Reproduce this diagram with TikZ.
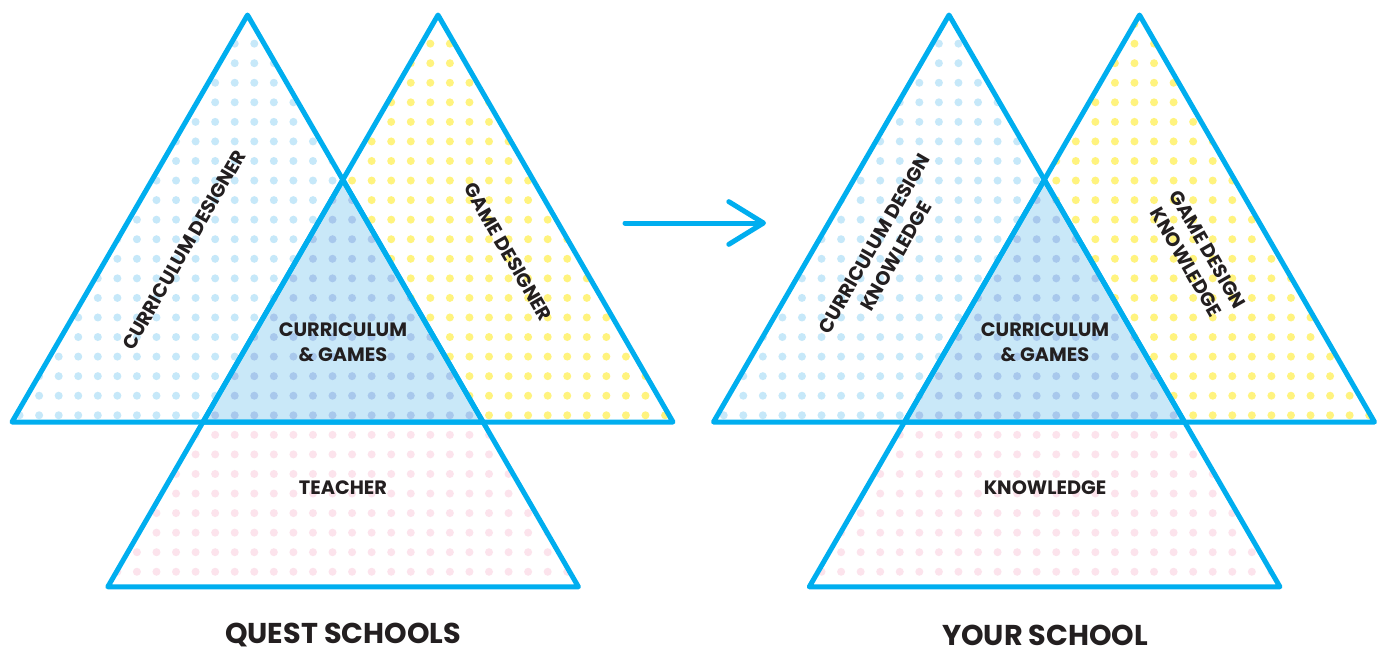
\documentclass[tikz,border=0pt]{standalone}
\usepackage{fontspec}
\setmainfont{Poppins}
\usetikzlibrary{patterns.meta,arrows.meta}

\definecolor{rimblue}{HTML}{00AEEF}
\definecolor{bluedot}{HTML}{C6E8F9}
\definecolor{yellowdot}{HTML}{FFF37E}
\definecolor{pinkdot}{HTML}{FCE3EC}
\definecolor{midfill}{HTML}{C9E8F8}
\definecolor{middot}{HTML}{A8C8EC}
\definecolor{ink}{HTML}{231F20}

\tikzdeclarepattern{
  name=dotgrid,
  type=uncolored,
  bounding box={(-7.33pt,-7.33pt) and (7.33pt,7.33pt)},
  tile size={(14.67pt,14.67pt)},
  code={\pgfpathcircle{\pgfpointorigin}{3pt}\pgfusepath{fill}}
}

\tikzset{every picture/.style={line width=0.75pt}}
\tikzset{
  rim/.style={draw=rimblue, line width=3.75pt, line join=round},
  bluearea/.style={pattern={dotgrid}, pattern color=bluedot},
  yellowarea/.style={pattern={dotgrid}, pattern color=yellowdot},
  pinkarea/.style={pattern={dotgrid}, pattern color=pinkdot},
  midarea/.style={pattern={dotgrid}, pattern color=middot},
  lbl/.style={font=\bfseries\fontsize{14.5}{19}\selectfont, text=ink, align=center, inner sep=0.75pt},
  title/.style={font=\bfseries\fontsize{21.5}{26}\selectfont, text=ink, inner sep=0pt}
}

\begin{document}
\begin{tikzpicture}[x=0.75pt,y=0.75pt,yscale=-1,xscale=1]
%set diagram left start at 0, and has height of 650
\useasboundingbox[fill=white] (0,0) rectangle (1382,650);

%Shape: Triangle, quest curriculum [id:qc]
\path[bluearea] (247.5,15) -- (12,422) -- (483,422) -- cycle;
%Shape: Triangle, quest game [id:qg]
\path[yellowarea] (438,15) -- (203,422) -- (673,422) -- cycle;
%Shape: Triangle, quest teacher [id:qt]
\path[pinkarea] (342.85,179.8) -- (107.8,586.8) -- (578.4,586.8) -- cycle;
%Shape: Triangle, quest overlap [id:qm]
\fill[midfill] (342.85,179.8) -- (203,422) -- (483,422) -- cycle;
\path[midarea] (342.85,179.8) -- (203,422) -- (483,422) -- cycle;

%Shape: Triangle, your curriculum [id:yc]
\path[bluearea] (949,15) -- (713.5,422) -- (1184.5,422) -- cycle;
%Shape: Triangle, your game [id:yg]
\path[yellowarea] (1139.5,15) -- (904.5,422) -- (1374.5,422) -- cycle;
%Shape: Triangle, your knowledge [id:yk]
\path[pinkarea] (1044.35,179.8) -- (809.3,586.8) -- (1279.9,586.8) -- cycle;
%Shape: Triangle, your overlap [id:ym]
\fill[midfill] (1044.35,179.8) -- (904.5,422) -- (1184.5,422) -- cycle;
\path[midarea] (1044.35,179.8) -- (904.5,422) -- (1184.5,422) -- cycle;

%Outlines
\draw[rim] (247.5,15) -- (12,422) -- (483,422) -- cycle;
\draw[rim] (438,15) -- (203,422) -- (673,422) -- cycle;
\draw[rim] (342.85,179.8) -- (107.8,586.8) -- (578.4,586.8) -- cycle;
\draw[rim] (949,15) -- (713.5,422) -- (1184.5,422) -- cycle;
\draw[rim] (1139.5,15) -- (904.5,422) -- (1374.5,422) -- cycle;
\draw[rim] (1044.35,179.8) -- (809.3,586.8) -- (1279.9,586.8) -- cycle;

%Arrow
\coordinate (arrowtail) at (625,223);
\coordinate (arrowtip) at (766,223);
\draw[rim, line cap=round, -{Straight Barb[length=26pt,width=32pt,round]}] (arrowtail) -- (arrowtip);

% Text Node
\node[lbl, rotate=60] (qcurr) at (184,250) {CURRICULUM DESIGNER};
% Text Node
\node[lbl, rotate=-60] (qgame) at (508,252) {GAME DESIGNER};
% Text Node
\node[lbl] (qmid) at (343,342) {CURRICULUM\\\& GAMES};
% Text Node
\node[lbl] (qteach) at (343,488) {TEACHER};
% Text Node
\node[title] (qtitle) at (343,635) {QUEST SCHOOLS};

% Text Node
\node[lbl, rotate=60] (ycurr) at (885,250) {CURRICULUM DESIGN\\KNOWLEDGE};
% Text Node
\node[lbl, rotate=-60] (ygame) at (1197,256) {GAME DESIGN\\KNOWLEDGE};
% Text Node
\node[lbl] (ymid) at (1045,342) {CURRICULUM\\\& GAMES};
% Text Node
\node[lbl] (yknow) at (1045,488) {KNOWLEDGE};
% Text Node
\node[title] (ytitle) at (1045,635) {YOUR SCHOOL};

\end{tikzpicture}
\end{document}
